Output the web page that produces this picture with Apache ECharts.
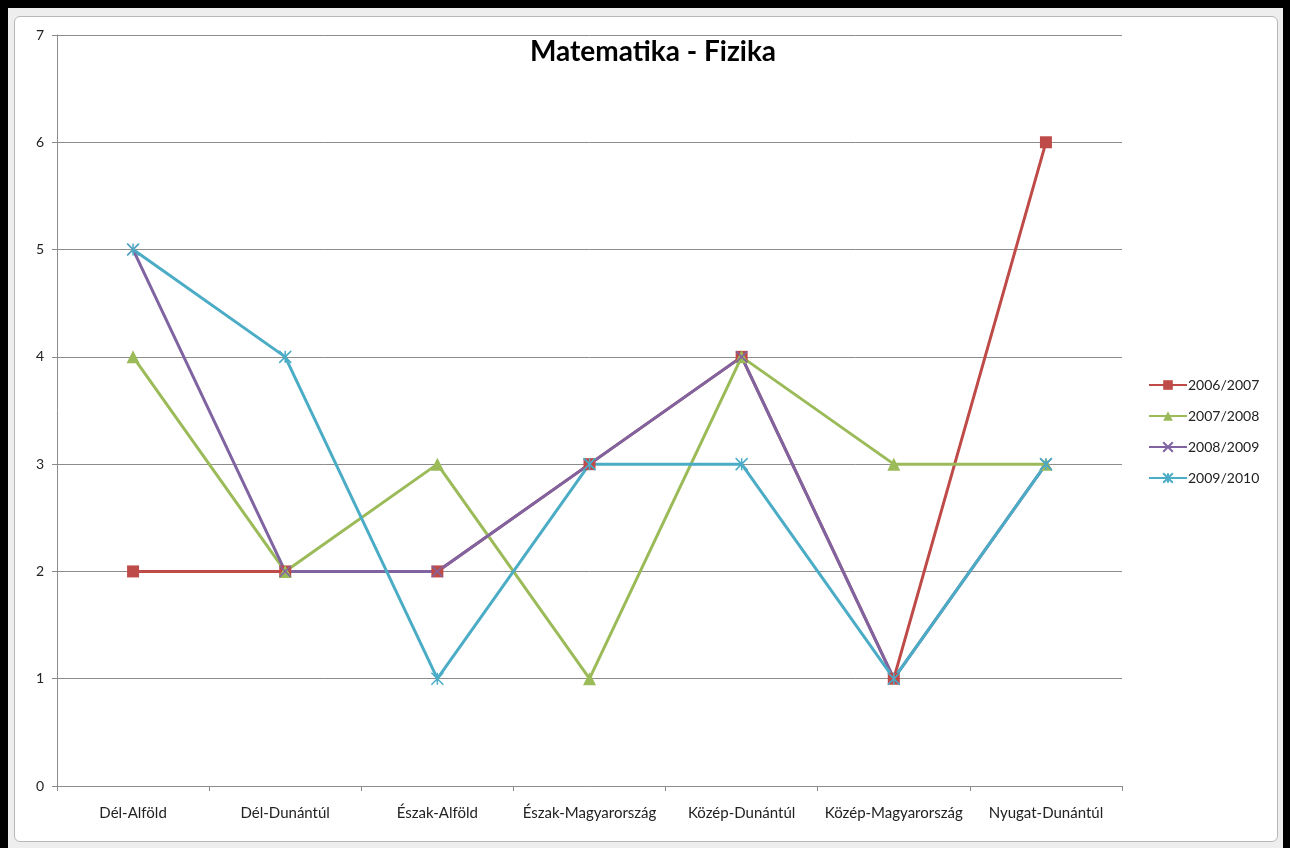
<!DOCTYPE html>
<html>
<head>
<meta charset="utf-8">
<script src="https://cdn.jsdelivr.net/npm/echarts@6/dist/echarts.min.js"></script>
<style>
  html, body { margin: 0; padding: 0; background: #000; }
  .outer { position: absolute; left: 8px; top: 8px; width: 1275px; height: 840px; background: #eeeeee; }
  .frame { position: absolute; left: 14px; top: 16px; width: 1262px; height: 824px; background: #fff;
    border: 1px solid #b8b8b8; border-radius: 6px; }
  #chart { position: absolute; left: 0; top: 0; width: 1290px; height: 848px; }
</style>
</head>
<body>
<div class="outer"></div>
<div class="frame"></div>
<div id="chart"></div>
<script>
const categories = ['Dél-Alföld', 'Dél-Dunántúl', 'Észak-Alföld', 'Észak-Magyarország', 'Közép-Dunántúl', 'Közép-Magyarország', 'Nyugat-Dunántúl']
const s2006 = [2, 2, 2, 3, 4, 1, 6]
const s2007 = [4, 2, 3, 1, 4, 3, 3]
const s2008 = [5, 2, 2, 3, 4, 1, 3]
const s2009 = [5, 4, 1, 3, 3, 1, 3]

const font = 'Lato, "Open Sans", sans-serif'
const crossPath = 'path://M0,0 L10,10 M10,0 L0,10'
const starPath = 'path://M5,0 L5,10 M0,0 L10,10 M10,0 L0,10'

const chart = echarts.init(document.getElementById('chart'))

// 一条折线的公共样式
const line = (name, data, color, symbol, size, stroked) => ({
  name,
  type: 'line',
  data,
  symbol,
  symbolSize: size,
  lineStyle: { color, width: 3 },
  itemStyle: stroked
    ? { color: 'rgba(0,0,0,0)', borderColor: color, borderWidth: 1.5 }
    : { color, borderWidth: 0 },
  emphasis: { disabled: true },
  animation: false
})

chart.setOption({
  textStyle: { fontFamily: font },
  title: {
    text: 'Matematika - Fizika',
    left: 648,
    textAlign: 'center',
    top: 33,
    textStyle: { fontSize: 28, fontWeight: 'bold', color: '#000', fontFamily: font }
  },
  legend: {
    orient: 'vertical',
    left: 1143,
    top: 373,
    itemGap: 17,
    itemWidth: 38,
    itemHeight: 12,
    textStyle: { fontSize: 14, color: '#222', padding: [0, 0, 0, -4] },
    data: ['2006/2007', '2007/2008', '2008/2009', '2009/2010']
  },
  grid: { left: 57, right: 168, top: 35, bottom: 62 },
  xAxis: {
    type: 'category',
    data: categories,
    boundaryGap: true,
    axisLine: { lineStyle: { color: '#8c8c8c', width: 1 } },
    axisTick: { show: true, length: 5, lineStyle: { color: '#8c8c8c' } },
    axisLabel: { color: '#222', fontSize: 15, margin: 20, interval: 0 }
  },
  yAxis: {
    type: 'value',
    min: 0,
    max: 7,
    interval: 1,
    axisLine: { show: true, lineStyle: { color: '#8c8c8c', width: 1 } },
    axisTick: { show: true, length: 5, lineStyle: { color: '#8c8c8c' } },
    axisLabel: { color: '#222', fontSize: 14, margin: 13 },
    splitLine: { lineStyle: { color: '#8c8c8c', width: 1 } }
  },
  series: [
    line('2006/2007', s2006, '#be4b48', 'rect', 12, false),
    line('2007/2008', s2007, '#9bbb59', 'triangle', 13, false),
    line('2008/2009', s2008, '#8064a2', crossPath, 11, true),
    line('2009/2010', s2009, '#4bacc6', starPath, 12, true)
  ]
})
</script>
</body>
</html>
